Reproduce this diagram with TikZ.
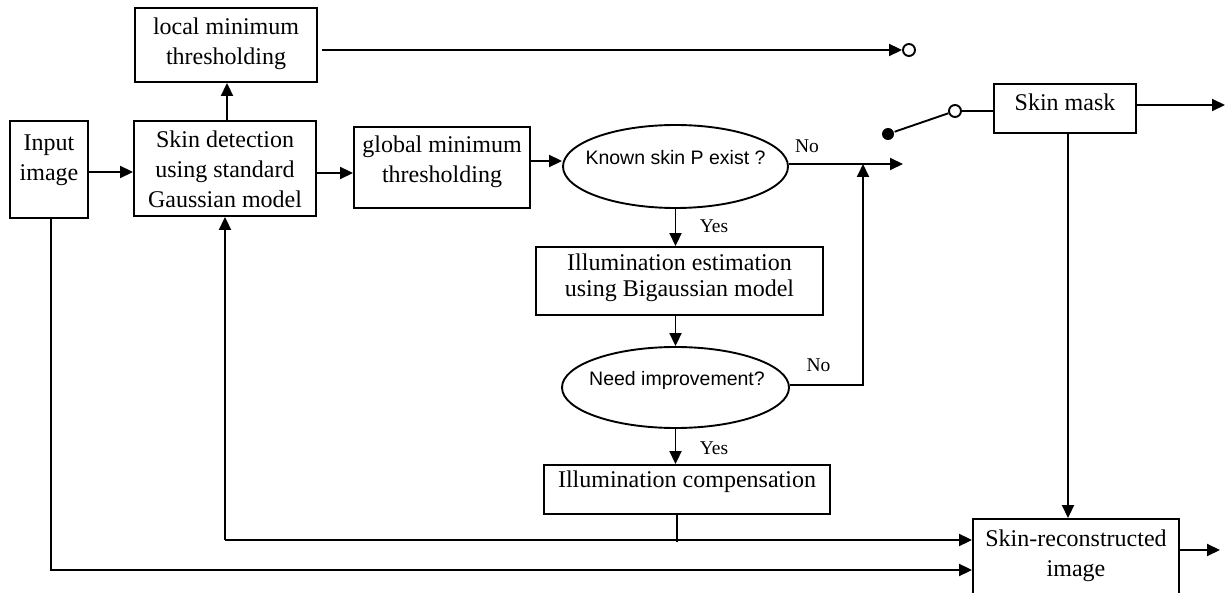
\documentclass[tikz,border=0pt]{standalone}
\usepackage{fontspec}
\setmainfont{Liberation Serif}
\newfontfamily\arialf{Liberation Sans}
\usetikzlibrary{arrows.meta,shapes.geometric}
\begin{document}
\begin{tikzpicture}[x=1pt,y=-1pt, line width=1.9pt,
 box/.style={draw, rectangle, inner sep=0pt},
 txt/.style={align=center, inner sep=0pt, font=\fontsize{24}{30}\selectfont},
 stxt/.style={inner sep=0pt, font=\arialf\fontsize{19.5}{23}\selectfont},
 lbl/.style={inner sep=0pt, font=\fontsize{19.5}{23}\selectfont},
 oval/.style={draw, ellipse, inner sep=0pt},
 arr/.style={-{Triangle[length=13pt,width=12pt]}},
 ocirc/.style={draw, circle, inner sep=0pt, minimum size=12pt, fill=white},
 dotc/.style={fill, circle, inner sep=0pt, minimum size=12pt},
]
\useasboundingbox (0,0) rectangle (1228,593);
\clip (0,0) rectangle (1228,593);
% boxes
\node[box, minimum width=182pt, minimum height=74pt] (local) at (226,45) {};
\node[txt] (localT) at (226,44) {local minimum\\thresholding};
\node[box, minimum width=78pt, minimum height=97pt] (input) at (49,169.5) {};
\node[txt] (inputT) at (49,160) {Input\\image};
\node[box, minimum width=182pt, minimum height=95pt] (skin) at (225,168.5) {};
\node[txt] (skinT) at (225,169) {Skin detection\\using standard\\Gaussian model};
\node[box, minimum width=176pt, minimum height=81pt] (global) at (442,167.5) {};
\node[txt] (globalT) at (442,162) {global minimum\\thresholding};
\node[oval, minimum width=225pt, minimum height=83pt] (k) at (675.5,166.5) {};
\node[stxt] (kT) at (675.5,158) {Known skin P exist ?};
\node[box, minimum width=287pt, minimum height=68pt] (est) at (679.5,281) {};
\node[txt, font=\fontsize{24}{26}\selectfont] (estT) at (679.5,278) {Illumination estimation\\using Bigaussian model};
\node[oval, minimum width=227pt, minimum height=81pt] (n) at (675.5,387.5) {};
\node[stxt] (nT) at (677,380) {Need improvement?};
\node[box, minimum width=286pt, minimum height=49pt] (comp) at (687,489.5) {};
\node[txt] (compT) at (687,482) {Illumination compensation};
\node[box, minimum width=142pt, minimum height=49pt] (mask) at (1065,108.5) {};
\node[txt] (maskT) at (1065,102) {Skin mask};
\node[box, minimum width=206pt, minimum height=77pt] (recon) at (1076,557.5) {};
\node[txt] (reconT) at (1076,556) {Skin-reconstructed\\image};
% labels
\node[lbl] (no1) at (807,146) {No};
\node[lbl] (yes1) at (714,226) {Yes};
\node[lbl] (no2) at (818.5,365) {No};
\node[lbl] (yes2) at (714,448) {Yes};
% switch and terminals
\node[ocirc] (o1) at (909,50) {};
\node[ocirc] (o2) at (955,111) {};
\node[dotc] (dot) at (888,134) {};
\coordinate (l1) at (322,50);
\coordinate (j1) at (903,164);
\coordinate (jn) at (863,164);
\coordinate (fb) at (225,540);
\coordinate (cb) at (677,542);
\coordinate (mo) at (1225,105);
\coordinate (ro) at (1220,550);
% connectors
\draw[arr] (input.east |- 0,172) -- (skin.west |- 0,172);
\draw[arr] (skin.east |- 0,173) -- (global.west |- 0,173);
\draw[arr] (global.east |- 0,161) -- (k.west |- 0,161);
\draw[arr] (skin.north -| 227,0) -- (local.south -| 227,0);
\draw[arr] (l1) -- (o1.west);
\draw[arr] (k.east |- 0,164) -- (j1);
\draw[arr] (k.south) -- (k.south |- est.north);
\draw[arr] (est.south -| n.north) -- (n.north);
\draw[arr] (n.east |- 0,385) -| (jn);
\draw[arr] (n.south) -- (n.south |- comp.north);
\draw (comp.south -| cb) -- (cb);
\draw[arr] (fb) -- (skin.south -| fb);
\draw[arr] (fb) -- (recon.west |- fb);
\draw[arr] (input.south -| 51,0) |- (recon.west |- 0,570);
\draw[arr] (mask.east |- 0,105) -- (mo);
\draw[arr] (mask.south -| 1068,0) -- (recon.north -| 1068,0);
\draw[arr] (recon.east |- ro) -- (ro);
\draw (dot) -- (o2);
\draw (o2.east) -- (mask.west |- o2.east);
\end{tikzpicture}
\end{document}
